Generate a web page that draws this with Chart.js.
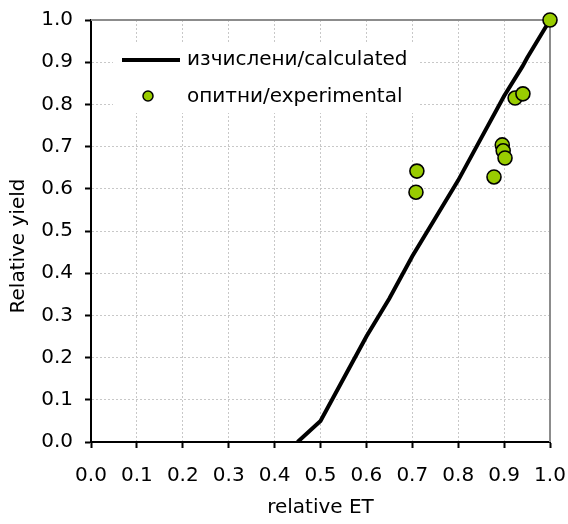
<!DOCTYPE html>
<html>
<head>
<meta charset="utf-8">
<script src="https://cdn.jsdelivr.net/npm/chart.js@4.4.1/dist/chart.umd.min.js"></script>
<style>
  html, body { margin: 0; padding: 0; background: #ffffff; }
  #wrap { width: 568px; height: 524px; }
</style>
</head>
<body>
<div id="wrap"><canvas id="c" width="568" height="524"></canvas></div>
<script>
// ---- data ----
const calcET    = [0.45, 0.50, 0.55, 0.60, 0.65, 0.70, 0.75, 0.80, 0.85, 0.90, 0.94, 0.95, 1.00];
const calcYield = [0.00, 0.05, 0.15, 0.25, 0.34, 0.44, 0.53, 0.62, 0.72, 0.82, 0.89, 0.91, 1.00];

const expET     = [0.708, 0.710, 0.878, 0.896, 0.898, 0.902, 0.924, 0.941, 1.000];
const expYield  = [0.592, 0.642, 0.628, 0.704, 0.690, 0.673, 0.815, 0.825, 1.000];

const tickValues = [0.0, 0.1, 0.2, 0.3, 0.4, 0.5, 0.6, 0.7, 0.8, 0.9, 1.0];

const seriesNames = ['изчислени/calculated', 'опитни/experimental'];
const xTitle = 'relative ET';
const yTitle = 'Relative yield';

// ---- styling ----
const FONT = 'DejaVu Sans';
const GREEN = '#99cc00';

const calcPoints = calcET.map((x, i) => ({ x: x, y: calcYield[i] }));
const expPoints = expET.map((x, i) => ({ x: x, y: expYield[i] }));

function axis(isX) {
  return {
    type: 'linear',
    min: 0,
    max: 1,
    afterBuildTicks: (s) => { s.ticks = tickValues.map(v => ({ value: v })); },
    afterFit: (s) => {
      if (isX) { s.height = 82; } else { s.width = 91; }
      s.paddingLeft = 0; s.paddingRight = 0; s.paddingTop = 0; s.paddingBottom = 0;
    },
    ticks: {
      color: '#000000',
      font: { family: FONT, size: 20 },
      padding: isX ? 16 : 12,
      maxRotation: 0,
      autoSkip: false,
      callback: (v) => Number(v).toFixed(1)
    },
    grid: {
      color: '#c8c8c8',
      lineWidth: 1,
      drawTicks: true,
      tickLength: 6,
      tickWidth: 2,
      tickColor: '#000000',
      tickBorderDash: [1, 0]
    },
    border: { display: true, color: '#000000', width: 2, dash: [2, 2] },
    title: {
      display: true,
      text: isX ? xTitle : yTitle + '\u2002\u2002\u2002',
      color: '#000000',
      font: { family: FONT, size: 20 },
      padding: isX ? { top: 0, bottom: 4 } : { top: 7, bottom: 0 }
    }
  };
}

const framePlugin = {
  id: 'frameAndLegend',
  beforeDatasetsDraw(chart) {
    const ctx = chart.ctx;
    const a = chart.chartArea;
    ctx.save();
    ctx.setLineDash([]);
    // top & right frame in grey
    ctx.strokeStyle = '#8c8c8c';
    ctx.lineWidth = 2;
    ctx.beginPath();
    ctx.moveTo(a.left, a.top);
    ctx.lineTo(a.right, a.top);
    ctx.lineTo(a.right, a.bottom);
    ctx.stroke();

    // legend box (white, covering the grid)
    ctx.fillStyle = '#ffffff';
    ctx.fillRect(113, 42, 305, 71);

    // line sample
    ctx.strokeStyle = '#000000';
    ctx.lineWidth = 4;
    ctx.beginPath();
    ctx.moveTo(122, 60);
    ctx.lineTo(180, 60);
    ctx.stroke();

    // marker sample
    ctx.fillStyle = GREEN;
    ctx.strokeStyle = '#000000';
    ctx.lineWidth = 1.5;
    ctx.beginPath();
    ctx.arc(148, 96, 5, 0, Math.PI * 2);
    ctx.fill();
    ctx.stroke();

    ctx.fillStyle = '#000000';
    ctx.font = '20px "' + FONT + '"';
    ctx.textAlign = 'left';
    ctx.textBaseline = 'middle';
    ctx.fillText(seriesNames[0], 187, 60);
    ctx.fillText(seriesNames[1], 187, 97);
    ctx.restore();
  }
};

new Chart(document.getElementById('c'), {
  type: 'scatter',
  data: {
    datasets: [
      {
        label: seriesNames[1],
        data: expPoints,
        showLine: false,
        pointRadius: 7,
        pointHoverRadius: 7,
        pointBackgroundColor: GREEN,
        pointBorderColor: '#000000',
        pointBorderWidth: 1.6,
        clip: false,
        order: 0
      },
      {
        label: seriesNames[0],
        data: calcPoints,
        showLine: true,
        borderColor: '#000000',
        borderWidth: 4,
        pointRadius: 0,
        pointHoverRadius: 0,
        tension: 0,
        fill: false,
        order: 1
      }
    ]
  },
  options: {
    responsive: false,
    animation: false,
    devicePixelRatio: 1,
    layout: { padding: { left: 0, right: 18, top: 20, bottom: 0 } },
    plugins: {
      legend: { display: false },
      tooltip: { enabled: false }
    },
    scales: {
      x: axis(true),
      y: axis(false)
    }
  },
  plugins: [framePlugin]
});
</script>
</body>
</html>
